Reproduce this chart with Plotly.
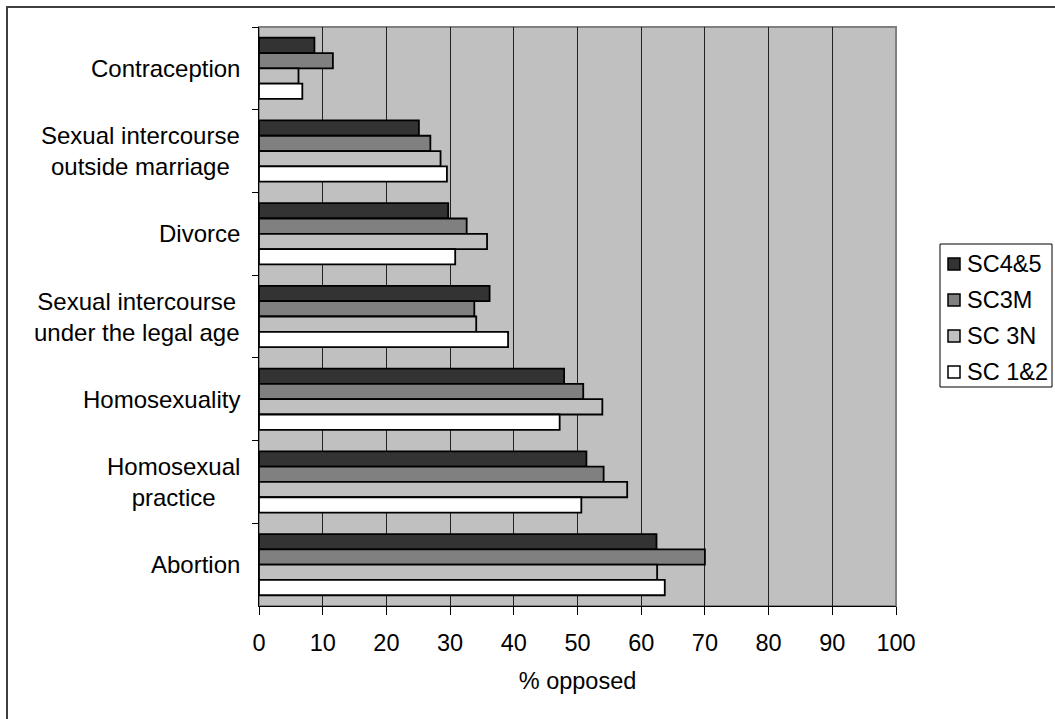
import plotly.graph_objects as go

categories = ["Contraception", "Sexual intercourse<br>outside marriage", "Divorce",
              "Sexual intercourse<br>under the legal age", "Homosexuality",
              "Homosexual<br>practice", "Abortion"]
series_names = ["SC4&5", "SC3M", "SC 3N", "SC 1&2"]
sc45 = [8.7, 25.1, 29.7, 36.2, 47.9, 51.4, 62.4]
sc3m = [11.6, 26.9, 32.6, 33.8, 50.9, 54.1, 70.0]
sc3n = [6.2, 28.5, 35.8, 34.1, 53.9, 57.8, 62.5]
sc12 = [6.8, 29.5, 30.8, 39.1, 47.2, 50.6, 63.7]
x_ticks = [0, 10, 20, 30, 40, 50, 60, 70, 80, 90, 100]
colors = ["#333333", "#808080", "#c0c0c0", "#ffffff"]

FONT = "Liberation Sans, Arial, sans-serif"
W, H = 1055, 719
# plot area in page pixels
PL, PR, PT, PB = 259, 896, 27, 606
ML, MR, MT, MB = PL, W - PR, PT, H - PB
PW, PH = PR - PL, PB - PT

fig = go.Figure()
for name, vals, col in zip(series_names, [sc45, sc3m, sc3n, sc12], colors):
    fig.add_trace(go.Bar(
        y=categories, x=vals, name=name, orientation="h",
        marker=dict(color=col, line=dict(color="black", width=1.8)),
        showlegend=False,
    ))

def px_x(p):
    return (p - PL) / PW

def px_y(p):
    return (PB - p) / PH

# category labels as annotations (centered multi-line, right-anchored)
for c in categories:
    fig.add_annotation(x=0, xref="paper", y=c, yref="y", text=c, showarrow=False,
                       xanchor="right", align="center", xshift=-17,
                       font=dict(family=FONT, size=24, color="black"))

# plot area grey border (top/right)
fig.add_shape(type="rect", xref="paper", yref="paper", x0=0, x1=1, y0=0, y1=1,
              line=dict(color="#808080", width=2), layer="below")
# outer chart border
fig.add_shape(type="rect", xref="paper", yref="paper",
              x0=px_x(7), x1=px_x(1070), y0=px_y(730), y1=px_y(7),
              line=dict(color="#404040", width=2))

# legend (drawn box, swatches and labels)
fig.add_shape(type="rect", xref="paper", yref="paper",
              x0=px_x(940), x1=px_x(1052), y0=px_y(387), y1=px_y(244),
              line=dict(color="black", width=1), fillcolor="white")
for i, (name, col) in enumerate(zip(series_names, colors)):
    cy = 264 + i * 36
    fig.add_shape(type="rect", xref="paper", yref="paper",
                  x0=px_x(948), x1=px_x(960), y0=px_y(cy + 6), y1=px_y(cy - 6),
                  line=dict(color="black", width=1.5), fillcolor=col)
    fig.add_annotation(x=px_x(965), xref="paper", y=px_y(cy), yref="paper", text=name,
                       showarrow=False, xanchor="left", yanchor="middle",
                       font=dict(family=FONT, size=23.5, color="black"))

fig.update_layout(
    width=W, height=H,
    margin=dict(l=ML, r=MR, t=MT, b=MB, autoexpand=False),
    paper_bgcolor="white", plot_bgcolor="#c0c0c0",
    barmode="group", bargap=0.26, bargroupgap=0,
    font=dict(family=FONT, size=23.5, color="black"),
    showlegend=False,
    xaxis=dict(range=[0, 100], tickvals=x_ticks, showgrid=True, gridcolor="#222222",
               gridwidth=1, zeroline=False, showline=True, linecolor="black", linewidth=1,
               ticks="outside", ticklen=8, tickcolor="black", ticklabelstandoff=8,
               tickfont=dict(family=FONT, size=23.5),
               title=dict(text="% opposed", font=dict(family=FONT, size=23.5), standoff=17)),
    yaxis=dict(categoryorder="array", categoryarray=categories, autorange="reversed",
               showticklabels=False, ticks="outside", ticklen=6, tickcolor="black",
               tickson="boundaries", showgrid=False, showline=True, linecolor="black",
               linewidth=1, zeroline=False),
)

fig.write_html("out.html", config={"displayModeBar": False},
               post_script="document.body.style.margin='0px';document.body.style.overflow='hidden';")
